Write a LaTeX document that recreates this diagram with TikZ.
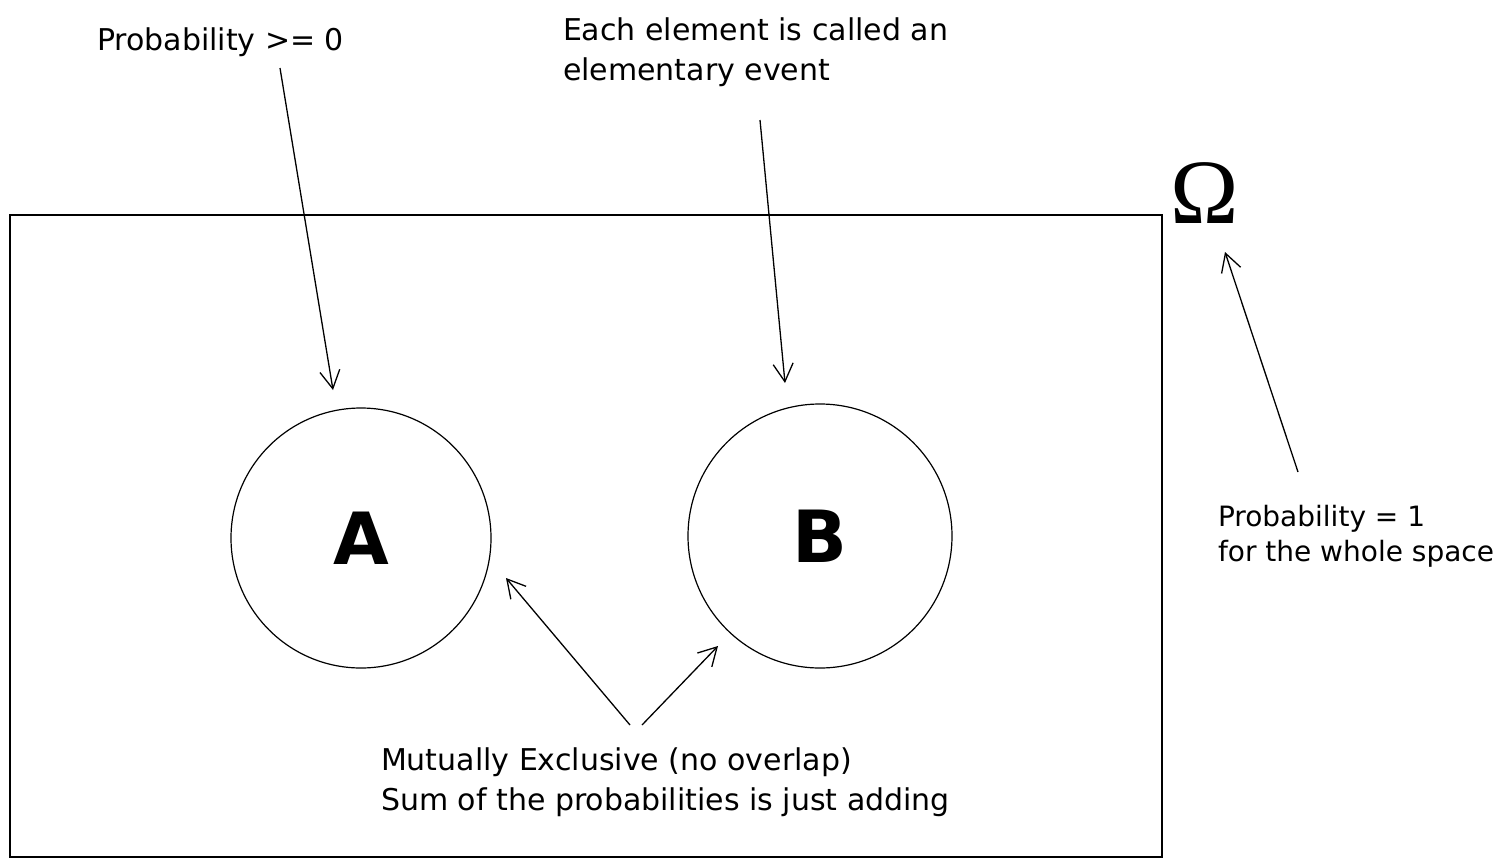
\documentclass[tikz,border=0pt]{standalone}
\usepackage{fontspec}
\setmainfont{DejaVu Sans}
\newfontfamily\omegafont{Liberation Serif}
\usetikzlibrary{arrows.meta}
\begin{document}
\begin{tikzpicture}[x=1pt,y=-1pt,
  every node/.style={inner sep=0pt, outer sep=0pt},
  note/.style={anchor=west, font=\fontsize{30}{40}\selectfont, align=left},
  event/.style={draw, circle, line width=1.2pt, font=\bfseries\fontsize{72}{72}\selectfont},
  pointer/.style={line width=1.3pt, -{Straight Barb[length=18pt,width=20pt,line width=1.3pt]}}]
\useasboundingbox (0,0) rectangle (1505,865);
\node[draw, line width=1.2pt, minimum width=1152pt, minimum height=642pt] (space) at (586,536) {};
\node[event, minimum size=260pt] (A) at (361,538) {A};
\node[event, minimum size=264pt] (B) at (820,536) {B};
\node[font=\omegafont\fontsize{92}{92}\selectfont] (omega) at (1205,193) {Ω};
\node[note] (t1) at (97,42) {Probability >= 0};
\node[note] (t2) at (563,52) {Each element is called an\\elementary event};
\node[note, font=\fontsize{28}{35}\selectfont] (t3) at (1218,536) {Probability = 1\\for the whole space};
\node[note] (t4) at (381,782) {Mutually Exclusive (no overlap)\\Sum of the probabilities is just adding};
\coordinate (a1s) at (280,68); \coordinate (a1e) at (333,390);
\coordinate (a2s) at (760,120); \coordinate (a2e) at (785,383);
\coordinate (a3s) at (1298,472); \coordinate (a3e) at (1225,252);
\coordinate (a4s) at (630,725); \coordinate (a4e) at (506,578);
\coordinate (a5s) at (642,725); \coordinate (a5e) at (718,646);
\draw[pointer] (a1s) -- (a1e);
\draw[pointer] (a2s) -- (a2e);
\draw[pointer] (a3s) -- (a3e);
\draw[pointer] (a4s) -- (a4e);
\draw[pointer] (a5s) -- (a5e);
\end{tikzpicture}
\end{document}
